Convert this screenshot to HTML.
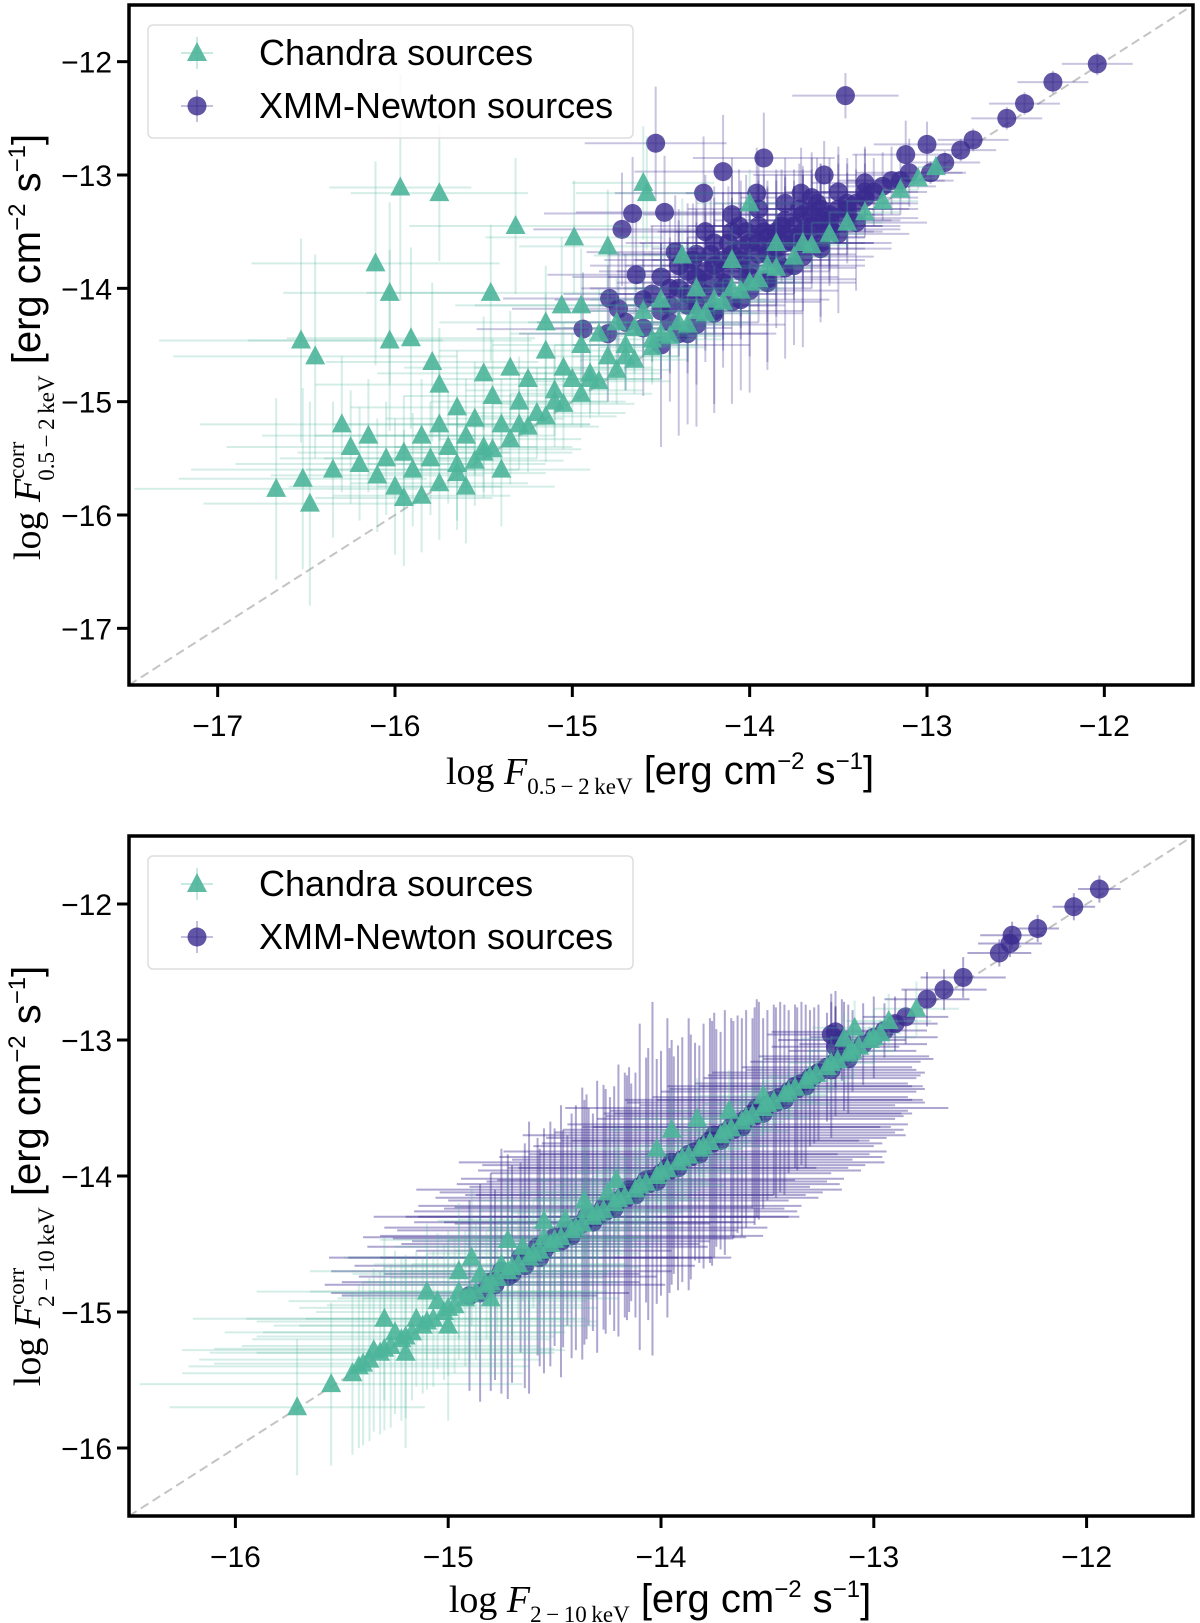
<!DOCTYPE html>
<html><head><meta charset="utf-8"><style>
html,body{margin:0;padding:0;background:#fff;}
svg{display:block;}
</style></head><body>
<svg id="fig" width="1200" height="1623" viewBox="0 0 1200 1623" xmlns="http://www.w3.org/2000/svg">
<g id="top"></g>
<g id="bot"></g>
</svg>
<script>
// ---------- DATA: [x, y, xerr, yerr] ----------
const topXTicks = [-17,-16,-15,-14,-13,-12];
const topYTicks = [-17,-16,-15,-14,-13,-12];
const botXTicks = [-16,-15,-14,-13,-12];
const botYTicks = [-16,-15,-14,-13,-12];

const topXmm = [
[-14.53,-12.72,0.4,0.5],[-13.46,-12.30,0.3,0.2],[-14.15,-12.97,0.5,0.5],[-13.92,-12.85,0.4,0.4],
[-14.26,-13.16,0.5,0.5],[-13.96,-13.16,0.4,0.4],[-13.58,-13.00,0.4,0.3],[-13.71,-13.16,0.4,0.4],
[-14.72,-13.48,0.5,0.5],[-14.66,-13.34,0.5,0.5],[-14.48,-13.33,0.5,0.5],[-13.35,-13.07,0.3,0.3],
[-13.12,-12.82,0.3,0.3],[-13.00,-12.73,0.3,0.2],[-14.06,-13.45,0.5,0.5],[-14.42,-13.68,0.5,0.5],
[-14.79,-14.09,0.6,0.5],[-14.74,-14.18,0.6,0.5],[-14.94,-14.36,0.6,0.5],[-14.64,-13.88,0.5,0.5],
[-12.04,-12.02,0.2,0.1],[-12.29,-12.18,0.2,0.1],[-12.45,-12.37,0.2,0.1],[-12.55,-12.50,0.2,0.1],
[-12.74,-12.69,0.2,0.1],[-12.81,-12.78,0.2,0.1],[-12.90,-12.89,0.2,0.1],[-12.98,-12.98,0.2,0.1],
[-14.6,-14.1,0.5,0.5],[-14.5,-14.2,0.5,0.6],[-14.5,-13.9,0.5,0.5],[-14.4,-14.0,0.5,0.6],[-14.4,-13.8,0.5,0.5],
[-14.35,-14.15,0.5,0.6],[-14.3,-13.9,0.5,0.6],[-14.3,-13.7,0.5,0.5],[-14.25,-14.05,0.5,0.6],[-14.2,-13.8,0.5,0.6],
[-14.2,-13.6,0.5,0.5],[-14.15,-13.95,0.5,0.6],[-14.1,-13.7,0.5,0.5],[-14.1,-13.5,0.4,0.5],[-14.05,-13.85,0.5,0.6],
[-14.0,-13.8,0.5,0.6],[-14.0,-13.6,0.4,0.5],[-13.95,-13.45,0.4,0.4],[-13.9,-13.7,0.5,0.6],[-13.9,-13.55,0.4,0.5],
[-13.85,-13.5,0.4,0.5],[-13.8,-13.6,0.5,0.5],[-13.8,-13.4,0.4,0.4],[-13.75,-13.55,0.4,0.5],[-13.7,-13.5,0.4,0.5],
[-13.7,-13.35,0.4,0.4],[-13.65,-13.45,0.4,0.5],[-13.6,-13.4,0.4,0.4],[-13.6,-13.3,0.4,0.4],[-13.55,-13.4,0.4,0.4],
[-13.5,-13.3,0.4,0.4],[-13.45,-13.3,0.4,0.4],[-13.4,-13.25,0.3,0.3],[-13.35,-13.2,0.3,0.3],[-13.3,-13.15,0.3,0.3],
[-13.25,-13.1,0.3,0.3],[-13.2,-13.05,0.3,0.3],[-13.15,-13.05,0.3,0.3],[-13.1,-12.98,0.3,0.3],
[-14.45,-14.3,0.5,0.7],[-14.3,-14.15,0.5,0.7],[-14.15,-14.0,0.5,0.7],[-14.0,-13.9,0.5,0.7],[-13.85,-13.75,0.5,0.6],
[-13.7,-13.6,0.4,0.6],[-13.55,-13.48,0.4,0.5],[-14.6,-14.35,0.5,0.6],[-14.7,-14.3,0.5,0.6],[-14.8,-14.4,0.5,0.6],
[-14.1,-13.35,0.5,0.5],[-13.95,-13.3,0.4,0.5],[-14.25,-13.5,0.5,0.5],[-13.8,-13.25,0.4,0.4],[-13.65,-13.2,0.4,0.4],
[-13.5,-13.15,0.3,0.4],[-14.2,-14.22,0.5,0.8],[-14.05,-14.1,0.5,0.8],[-13.9,-13.95,0.5,0.7],[-13.75,-13.8,0.4,0.7],
[-13.6,-13.65,0.4,0.6],[-14.35,-14.4,0.5,0.8],
[-14.55,-14.05,0.5,0.6],[-14.45,-14.0,0.5,0.6],[-14.35,-13.85,0.5,0.6],[-14.25,-13.85,0.5,0.6],[-14.15,-13.75,0.5,0.6],
[-14.05,-13.65,0.5,0.6],[-13.95,-13.6,0.5,0.6],[-13.85,-13.55,0.5,0.6],[-13.75,-13.45,0.5,0.5],[-13.65,-13.35,0.4,0.5],
[-13.55,-13.35,0.4,0.5],[-13.45,-13.25,0.4,0.4],[-13.35,-13.15,0.3,0.4],[-14.45,-14.15,0.5,0.6],[-14.35,-14.05,0.5,0.6],
[-14.25,-13.95,0.5,0.6],[-14.15,-13.85,0.5,0.6],[-14.05,-13.75,0.5,0.6],[-13.95,-13.7,0.5,0.6],[-13.85,-13.65,0.5,0.6],
[-13.75,-13.6,0.4,0.5],[-13.65,-13.5,0.4,0.5],[-13.55,-13.45,0.4,0.5],[-13.45,-13.38,0.4,0.4],[-14.12,-13.6,0.5,0.5],
[-14.02,-13.5,0.5,0.5],[-13.92,-13.5,0.5,0.5],[-13.82,-13.45,0.4,0.5],[-13.72,-13.3,0.4,0.4],[-13.62,-13.25,0.4,0.4],
[-14.22,-13.7,0.5,0.5],[-14.32,-13.75,0.5,0.5],
[-14.3,-14.32,0.5,0.9],[-14.1,-14.12,0.5,0.9],[-13.9,-13.92,0.5,0.8],[-13.7,-13.72,0.4,0.8],[-13.5,-13.52,0.4,0.7],
[-14.5,-14.5,0.5,0.9],[-14.0,-14.02,0.5,0.9],[-13.8,-13.82,0.4,0.8],[-13.6,-13.6,0.4,0.7],[-13.4,-13.42,0.4,0.6],
[-14.2,-14.2,0.5,0.9],[-14.4,-14.4,0.5,0.9]
];
const topChandra = [
[-15.97,-13.11,0.4,1.0],[-15.75,-13.16,0.5,0.6],[-15.32,-13.45,0.6,0.6],[-14.99,-13.55,0.5,0.5],
[-14.80,-13.63,0.5,0.5],[-14.60,-13.07,0.4,0.5],[-14.58,-13.16,0.4,0.5],[-14.00,-13.25,0.3,0.3],
[-14.38,-13.71,0.5,0.5],[-16.11,-13.78,0.7,0.9],[-16.03,-14.04,0.6,0.8],[-15.46,-14.04,0.7,0.6],
[-15.06,-14.15,0.6,0.6],[-16.03,-14.46,0.8,0.8],[-15.91,-14.44,0.7,0.8],[-16.53,-14.46,0.8,0.9],
[-16.45,-14.60,0.8,0.9],[-15.79,-14.65,0.6,0.7],[-16.67,-15.77,0.8,0.8],[-16.52,-15.68,0.7,0.8],
[-16.48,-15.90,0.6,0.9],
[-16.25,-15.4,0.7,0.5],[-16.2,-15.55,0.7,0.5],[-16.15,-15.3,0.6,0.5],[-16.1,-15.65,0.6,0.5],[-16.05,-15.5,0.6,0.5],
[-16.0,-15.75,0.6,0.6],[-15.95,-15.45,0.6,0.5],[-15.9,-15.6,0.6,0.5],[-15.85,-15.3,0.6,0.5],[-15.8,-15.5,0.6,0.5],
[-15.75,-15.2,0.6,0.5],[-15.7,-15.4,0.5,0.5],[-15.65,-15.05,0.6,0.5],[-15.6,-15.3,0.5,0.5],[-15.55,-15.15,0.5,0.5],
[-15.5,-15.45,0.5,0.4],[-15.45,-14.95,0.5,0.5],[-15.4,-15.2,0.5,0.4],[-15.35,-14.7,0.6,0.5],[-15.3,-15.0,0.5,0.4],
[-15.25,-14.8,0.5,0.4],[-15.2,-15.1,0.5,0.4],[-15.15,-14.55,0.6,0.5],[-15.1,-14.9,0.5,0.4],[-15.05,-14.7,0.5,0.4],
[-15.0,-14.8,0.5,0.4],[-14.95,-14.5,0.5,0.4],[-14.9,-14.75,0.4,0.4],[-14.85,-14.4,0.5,0.4],[-14.8,-14.6,0.4,0.4],
[-14.75,-14.3,0.5,0.4],[-14.7,-14.5,0.4,0.4],[-14.65,-14.35,0.4,0.4],[-14.6,-14.2,0.4,0.4],[-14.55,-14.45,0.4,0.4],
[-14.5,-14.1,0.4,0.4],[-14.4,-14.3,0.4,0.3],[-14.3,-14.0,0.4,0.3],[-14.2,-14.1,0.3,0.3],[-14.1,-13.75,0.3,0.3],
[-14.0,-13.95,0.3,0.3],[-13.85,-13.6,0.3,0.3],[-15.65,-15.55,0.5,0.5],[-15.6,-15.75,0.5,0.5],[-15.95,-15.85,0.5,0.6],
[-15.4,-15.6,0.5,0.5],[-16.35,-15.6,0.8,0.6],[-16.3,-15.2,0.8,0.6],[-15.75,-14.85,0.7,0.5],[-15.5,-14.75,0.6,0.5],
[-15.15,-14.3,0.6,0.5],[-14.95,-14.15,0.6,0.5],
[-15.85,-15.83,0.5,0.5],[-15.75,-15.72,0.5,0.5],[-15.65,-15.63,0.5,0.5],[-15.55,-15.52,0.5,0.4],[-15.45,-15.42,0.5,0.4],
[-15.35,-15.33,0.4,0.4],[-15.25,-15.22,0.4,0.4],[-15.15,-15.13,0.4,0.4],[-15.05,-15.02,0.4,0.4],[-14.95,-14.93,0.4,0.3],
[-14.85,-14.82,0.4,0.3],[-14.75,-14.72,0.3,0.3],[-14.65,-14.63,0.3,0.3],[-14.55,-14.52,0.3,0.3],[-14.45,-14.42,0.3,0.3],
[-14.35,-14.32,0.3,0.3],[-14.25,-14.22,0.3,0.2],[-14.15,-14.12,0.3,0.2],[-14.05,-14.02,0.2,0.2],[-13.95,-13.92,0.2,0.2],
[-13.85,-13.82,0.2,0.2],[-13.75,-13.72,0.2,0.2],[-13.65,-13.62,0.2,0.2],[-13.55,-13.52,0.2,0.2],[-13.45,-13.42,0.2,0.2],
[-13.35,-13.33,0.2,0.1],[-13.25,-13.23,0.2,0.1],[-13.15,-13.13,0.1,0.1],[-13.05,-13.03,0.1,0.1],[-12.95,-12.93,0.1,0.1],
[-15.5,-15.4,0.5,0.4],[-15.3,-15.2,0.4,0.4],[-15.1,-15.0,0.4,0.4],[-14.9,-14.8,0.4,0.3],[-14.7,-14.6,0.3,0.3],
[-14.5,-14.4,0.3,0.3],[-14.3,-14.2,0.3,0.3],[-14.1,-14.0,0.3,0.2],[-13.9,-13.8,0.2,0.2],[-13.7,-13.6,0.2,0.2]
];
const botXmm = [
[-11.94,-11.89,0.1,0.1],[-12.06,-12.02,0.1,0.1],[-12.23,-12.18,0.1,0.1],[-12.35,-12.23,0.15,0.1],
[-12.36,-12.29,0.15,0.1],[-12.41,-12.36,0.15,0.1],[-12.58,-12.54,0.2,0.15],[-12.67,-12.63,0.2,0.15],
[-12.75,-12.70,0.2,0.2],[-13.18,-12.94,0.3,0.3],[-13.18,-13.05,0.3,0.3],
[-14.8,-14.78,0.7,0.8],[-14.75,-14.7,0.8,0.9],[-14.7,-14.72,0.6,0.8],[-14.66,-14.6,0.9,0.7],[-14.62,-14.6,0.7,1.0],
[-14.58,-14.52,0.8,0.8],[-14.55,-14.55,0.6,0.9],[-14.5,-14.45,0.9,0.8],[-14.47,-14.48,0.7,1.0],[-14.44,-14.4,0.8,0.7],
[-14.4,-14.38,0.9,0.9],[-14.37,-14.35,0.6,1.0],[-14.34,-14.3,0.8,0.8],[-14.3,-14.3,0.9,1.0],[-14.27,-14.23,0.7,0.9],
[-14.24,-14.22,0.9,0.8],[-14.2,-14.18,0.8,1.0],[-14.17,-14.14,0.7,0.9],[-14.14,-14.12,0.9,0.8],[-14.1,-14.08,0.8,1.2],
[-14.07,-14.03,0.7,0.9],[-14.04,-14.02,0.9,1.3],[-14.0,-13.98,0.8,0.9],[-13.97,-13.94,0.7,1.1],[-13.94,-13.92,0.9,0.8],
[-13.9,-13.88,0.8,0.9],[-13.87,-13.84,0.7,1.0],[-13.84,-13.82,0.9,0.8],[-13.8,-13.78,0.8,0.9],[-13.77,-13.74,0.7,0.9],
[-13.74,-13.72,0.8,0.8],[-13.7,-13.68,0.8,0.9],[-13.67,-13.64,0.7,0.8],[-13.64,-13.62,0.8,0.8],[-13.6,-13.58,0.7,0.8],
[-13.57,-13.54,0.7,0.7],[-13.54,-13.52,0.7,0.8],[-13.5,-13.48,0.6,0.7],[-13.47,-13.44,0.7,0.7],[-13.44,-13.42,0.6,0.7],
[-13.4,-13.38,0.6,0.6],[-13.37,-13.34,0.6,0.6],[-13.34,-13.32,0.5,0.6],[-13.3,-13.28,0.5,0.5],[-13.26,-13.24,0.5,0.5],
[-13.22,-13.2,0.4,0.4],[-13.18,-13.16,0.4,0.4],[-13.14,-13.12,0.4,0.4],[-13.1,-13.08,0.3,0.3],[-13.05,-13.03,0.3,0.3],
[-13.0,-12.98,0.3,0.3],[-12.95,-12.93,0.2,0.2],[-12.9,-12.88,0.2,0.2],[-12.85,-12.83,0.2,0.2],
[-14.78,-14.8,0.8,0.7],[-14.72,-14.74,0.7,0.9],[-14.64,-14.66,0.8,0.9],[-14.57,-14.6,0.9,0.8],[-14.52,-14.5,0.7,0.9],
[-14.46,-14.46,0.8,0.8],[-14.42,-14.44,0.9,0.9],[-14.36,-14.34,0.8,0.9],[-14.32,-14.34,0.7,0.8],[-14.26,-14.26,0.9,0.9],
[-14.22,-14.24,0.8,0.9],[-14.16,-14.16,0.9,0.9],[-14.12,-14.14,0.8,0.9],[-14.06,-14.06,0.9,1.0],[-14.02,-14.04,0.8,0.9],
[-13.96,-13.96,0.9,0.9],[-13.92,-13.94,0.8,0.9],[-13.86,-13.86,0.9,0.9],[-13.82,-13.84,0.8,0.8],[-13.76,-13.76,0.8,0.9],
[-13.72,-13.74,0.7,0.8],[-13.66,-13.66,0.8,0.8],[-13.62,-13.64,0.7,0.8],[-13.56,-13.56,0.7,0.8],[-13.52,-13.54,0.7,0.7],
[-13.46,-13.46,0.7,0.7],[-13.42,-13.44,0.6,0.7],[-13.36,-13.36,0.6,0.6],[-13.32,-13.34,0.5,0.6],[-13.28,-13.26,0.5,0.5],
[-13.2,-13.22,0.4,0.5],[-13.12,-13.14,0.4,0.4],[-13.2,-12.96,0.3,0.3],[-13.15,-13.0,0.3,0.3],
[-14.9,-14.88,0.6,0.7],[-14.85,-14.86,0.7,0.8],[-14.15,-14.1,1.0,0.9],[-13.95,-13.9,1.0,0.9],[-13.75,-13.7,0.9,0.9],
[-14.35,-14.3,1.0,0.9],[-13.55,-13.5,0.9,0.8]
];
const botChandra = [
[-15.71,-15.70,0.6,0.5],[-15.55,-15.53,0.9,0.6],[-15.45,-15.45,0.8,0.6],[-15.40,-15.38,0.7,0.6],
[-15.30,-15.27,0.8,0.6],[-15.20,-15.18,0.7,0.6],[-15.10,-15.07,0.8,0.5],[-15.00,-14.97,0.7,0.5],
[-14.90,-14.87,0.6,0.5],[-14.80,-14.78,0.6,0.5],[-14.70,-14.67,0.6,0.5],[-14.60,-14.57,0.5,0.4],
[-14.50,-14.47,0.5,0.4],[-14.40,-14.38,0.5,0.4],[-14.30,-14.27,0.4,0.4],[-14.20,-14.17,0.4,0.4],
[-14.10,-14.07,0.4,0.3],[-14.00,-13.97,0.4,0.3],[-13.90,-13.87,0.3,0.3],[-13.80,-13.78,0.3,0.3],
[-13.70,-13.67,0.3,0.3],[-13.60,-13.57,0.3,0.2],[-13.50,-13.47,0.3,0.2],[-13.40,-13.38,0.2,0.2],
[-13.30,-13.27,0.2,0.2],[-13.20,-13.17,0.2,0.2],[-13.10,-13.08,0.2,0.2],[-13.00,-12.98,0.2,0.2],
[-15.35,-15.28,0.9,0.6],[-15.25,-15.15,0.8,0.6],[-15.15,-15.05,0.8,0.5],[-15.05,-14.92,0.7,0.5],
[-14.95,-14.85,0.7,0.5],[-14.85,-14.72,0.6,0.5],[-14.75,-14.65,0.6,0.5],[-14.65,-14.52,0.6,0.4],
[-14.55,-14.45,0.5,0.4],[-14.45,-14.32,0.5,0.4],[-14.35,-14.25,0.5,0.4],[-14.25,-14.12,0.4,0.4],
[-13.83,-13.58,0.3,0.3],[-13.68,-13.52,0.3,0.3],[-13.52,-13.41,0.3,0.3],[-13.95,-13.66,0.3,0.3],
[-13.14,-12.99,0.2,0.2],[-13.09,-12.91,0.2,0.2],[-12.93,-12.86,0.2,0.2],[-12.80,-12.77,0.2,0.2],
[-14.02,-13.80,0.4,0.3],[-14.21,-14.03,0.4,0.4],[-14.36,-14.18,0.5,0.4],[-14.55,-14.33,0.5,0.4],
[-14.72,-14.47,0.6,0.5],[-14.89,-14.60,0.6,0.5],[-15.20,-15.30,0.7,0.7],[-15.0,-15.1,0.7,0.7],
[-14.8,-14.9,0.6,0.6],[-15.1,-14.85,0.8,0.5],[-14.95,-14.7,0.7,0.5],[-15.3,-15.05,0.9,0.6],
[-15.42,-15.40,0.8,0.6],[-15.37,-15.35,0.8,0.6],[-15.32,-15.30,0.8,0.6],[-15.27,-15.25,0.7,0.6],[-15.22,-15.20,0.7,0.6],
[-15.17,-15.15,0.7,0.5],[-15.12,-15.10,0.7,0.5],[-15.07,-15.05,0.6,0.5],[-15.02,-15.00,0.6,0.5],[-14.97,-14.95,0.6,0.5],
[-14.92,-14.90,0.6,0.5],[-14.87,-14.85,0.5,0.5],[-14.82,-14.80,0.5,0.4],[-14.77,-14.75,0.5,0.4],[-14.72,-14.70,0.5,0.4],
[-14.67,-14.65,0.5,0.4],[-14.62,-14.60,0.4,0.4],[-14.57,-14.55,0.4,0.4],[-14.52,-14.50,0.4,0.4],[-14.47,-14.45,0.4,0.4],
[-14.42,-14.40,0.4,0.3],[-14.37,-14.35,0.4,0.3],[-14.32,-14.30,0.3,0.3],[-14.27,-14.25,0.3,0.3],[-14.22,-14.20,0.3,0.3],
[-14.17,-14.15,0.3,0.3],[-14.12,-14.10,0.3,0.3],[-14.07,-14.05,0.3,0.3],[-14.02,-14.00,0.3,0.2],[-13.97,-13.95,0.3,0.2],
[-13.92,-13.90,0.2,0.2],[-13.87,-13.85,0.2,0.2],[-13.82,-13.80,0.2,0.2],[-13.77,-13.75,0.2,0.2],[-13.72,-13.70,0.2,0.2],
[-13.67,-13.65,0.2,0.2],[-13.62,-13.60,0.2,0.2],[-13.57,-13.55,0.2,0.2],[-13.52,-13.50,0.2,0.2],[-13.47,-13.45,0.2,0.2],
[-13.42,-13.40,0.2,0.1],[-13.37,-13.35,0.2,0.1],[-13.32,-13.30,0.2,0.1],[-13.27,-13.25,0.1,0.1],[-13.22,-13.20,0.1,0.1],
[-13.17,-13.15,0.1,0.1],[-13.12,-13.10,0.1,0.1],[-13.07,-13.05,0.1,0.1],[-13.02,-13.00,0.1,0.1],[-12.97,-12.95,0.1,0.1]
];

// ---------- DRAWING ----------
const NS = 'http://www.w3.org/2000/svg';
function mk(tag, attrs, parent){
  const e = document.createElementNS(NS, tag);
  for (const k in attrs) e.setAttribute(k, attrs[k]);
  parent.appendChild(e);
  return e;
}
const TEAL = '#4cb59a', PURP = '#3a2a8e';

function panel(g, cfg){
  const sx = v => cfg.L + (v - cfg.xmin) / (cfg.xmax - cfg.xmin) * (cfg.R - cfg.L);
  const sy = v => cfg.B - (v - cfg.ymin) / (cfg.ymax - cfg.ymin) * (cfg.B - cfg.T);
  const clip = mk('clipPath', {id: cfg.id + '-clip'}, g);
  mk('rect', {x: cfg.L, y: cfg.T, width: cfg.R - cfg.L, height: cfg.B - cfg.T}, clip);
  const plot = mk('g', {'clip-path': 'url(#' + cfg.id + '-clip)'}, g);
  
  
  const diag = mk('line', {x1: sx(cfg.xmin), y1: sy(cfg.xmin), x2: sx(cfg.xmax), y2: sy(cfg.xmax), stroke: '#c4c4c4', 'stroke-width': 2, 'stroke-dasharray': '9,5'}, plot);
  
  

  function series(data, color, marker, name, eop){
    const eg = mk('g', {stroke: color, 'stroke-opacity': eop, 'stroke-width': 2}, plot);
    
    
    data.forEach(d => {
      mk('line', {x1: sx(d[0] - d[2]), x2: sx(d[0] + d[2]), y1: sy(d[1]), y2: sy(d[1])}, eg);
      mk('line', {x1: sx(d[0]), x2: sx(d[0]), y1: sy(d[1] - d[3]), y2: sy(d[1] + d[3])}, eg);
    });
    const mg = mk('g', {fill: color, 'fill-opacity': marker === 'c' ? 0.8 : 0.9}, plot);
    
    
    data.forEach(d => {
      const cx = sx(d[0]), cy = sy(d[1]);
      let m;
      if (marker === 'c') m = mk('circle', {cx: cx, cy: cy, r: 9.5}, mg);
      else m = mk('polygon', {points: `${cx},${cy-11} ${cx-10},${cy+8} ${cx+10},${cy+8}`}, mg);
      
      
    });
  }
  series(cfg.xmm, PURP, 'c', 'xmm-newton', cfg.xop);
  series(cfg.chandra, TEAL, 't', 'chandra', 0.24);

  const frame = mk('rect', {x: cfg.L, y: cfg.T, width: cfg.R - cfg.L, height: cfg.B - cfg.T, fill: 'none', stroke: '#000', 'stroke-width': 3.5}, g);
  
  

  const ax = mk('g', {'font-family': '"Liberation Sans", sans-serif', 'font-size': 30, fill: '#000'}, g);
  
  
  cfg.xticks.forEach(t => {
    mk('line', {x1: sx(t), x2: sx(t), y1: cfg.B, y2: cfg.B + 12, stroke: '#000', 'stroke-width': 3}, ax);
    const tx = mk('text', {x: sx(t), y: cfg.B + 51, 'text-anchor': 'middle'}, ax);
    tx.textContent = '\u2212' + Math.abs(t);
    
    
  });
  const ay = mk('g', {'font-family': '"Liberation Sans", sans-serif', 'font-size': 30, fill: '#000'}, g);
  
  
  cfg.yticks.forEach(t => {
    mk('line', {x1: cfg.L - 12, x2: cfg.L, y1: sy(t), y2: sy(t), stroke: '#000', 'stroke-width': 3}, ay);
    const tx = mk('text', {x: cfg.L - 17, y: sy(t) + 11, 'text-anchor': 'end'}, ay);
    tx.textContent = '\u2212' + Math.abs(t);
    
    
  });

  // legend
  const lg = mk('g', {}, g);
  
  
  mk('rect', {x: 148, y: cfg.T + 20, width: 485, height: 113, rx: 5, fill: '#fff', 'fill-opacity': 0.8, stroke: '#ddd', 'stroke-width': 1.5}, lg);
  const entries = [['Chandra sources', TEAL, 't', 28], ['XMM-Newton sources', PURP, 'c', 81]];
  entries.forEach(en => {
    const cy = cfg.T + 20 + en[3];
    const le = mk('g', {}, lg);
    
    
    mk('line', {x1: 197, x2: 197, y1: cy - 16, y2: cy + 16, stroke: en[1], 'stroke-opacity': 0.3, 'stroke-width': 2}, le);
    mk('line', {x1: 181, x2: 213, y1: cy, y2: cy, stroke: en[1], 'stroke-opacity': 0.3, 'stroke-width': 2}, le);
    if (en[2] === 'c') mk('circle', {cx: 197, cy: cy, r: 9.5, fill: en[1], 'fill-opacity': 0.8}, le);
    else mk('polygon', {points: `197,${cy-11} 187,${cy+8} 207,${cy+8}`, fill: en[1], 'fill-opacity': 0.9}, le);
    const t = mk('text', {x: 259, y: cy + 12, 'font-family': '"Liberation Sans", sans-serif', 'font-size': 36, fill: '#000'}, le);
    t.textContent = en[0];
  });
}

const topG = document.getElementById('top');
panel(topG, {id:'top', L:129, R:1193, T:5, B:685, xmin:-17.5, xmax:-11.5, ymin:-17.5, ymax:-11.5,
  xticks: topXTicks, yticks: topYTicks, xmm: topXmm, chandra: topChandra, xop: 0.28});
const botG = document.getElementById('bot');
panel(botG, {id:'bot', L:129, R:1193, T:836, B:1516, xmin:-16.5, xmax:-11.5, ymin:-16.5, ymax:-11.5,
  xticks: botXTicks, yticks: botYTicks, xmm: botXmm, chandra: botChandra, xop: 0.42});
</script>
<script>
(function(){
  const fig = document.getElementById('fig');
  const NS = 'http://www.w3.org/2000/svg';
  function label(x, y, rot, sub, sup, name){
    const t = document.createElementNS(NS, 'text');
    t.setAttribute('x', x); t.setAttribute('y', y);
    t.setAttribute('text-anchor', 'middle');
    if (rot) t.setAttribute('transform', `rotate(-90 ${x} ${y})`);
    t.setAttribute('font-size', '38');
    
    
    let h = `<tspan font-family="'Liberation Serif', serif">log </tspan><tspan font-family="'Liberation Serif', serif" font-style="italic">F</tspan>`;
    if (sup) h += `<tspan font-family="'Liberation Serif', serif" font-size="23" dy="-16">corr</tspan><tspan font-family="'Liberation Serif', serif" font-size="23" dx="-39" dy="30">${sub}</tspan>`;
    else h += `<tspan font-family="'Liberation Serif', serif" font-size="23" dy="10">${sub}</tspan>`;
    h += `<tspan font-family="'Liberation Sans', sans-serif" font-size="40" dy="${sup ? -14 : -10}"> [erg cm</tspan><tspan font-family="'Liberation Sans', sans-serif" font-size="24" dy="-15">\u22122</tspan><tspan font-family="'Liberation Sans', sans-serif" font-size="40" dy="15"> s</tspan><tspan font-family="'Liberation Sans', sans-serif" font-size="24" dy="-15">\u22121</tspan><tspan font-family="'Liberation Sans', sans-serif" font-size="40" dy="15">]</tspan>`;
    t.innerHTML = h;
    fig.appendChild(t);
  }
  label(660, 784, false, '0.5\u2009\u2212\u20092\u2009keV', false, 'x-axis-title-top');
  label(40, 347, true, '0.5\u2009\u2212\u20092\u2009keV', true, 'y-axis-title-top');
  label(660, 1612, false, '2\u2009\u2212\u200910\u2009keV', false, 'x-axis-title-bottom');
  label(40, 1176, true, '2\u2009\u2212\u200910\u2009keV', true, 'y-axis-title-bottom');
})();
</script>
</body></html>
